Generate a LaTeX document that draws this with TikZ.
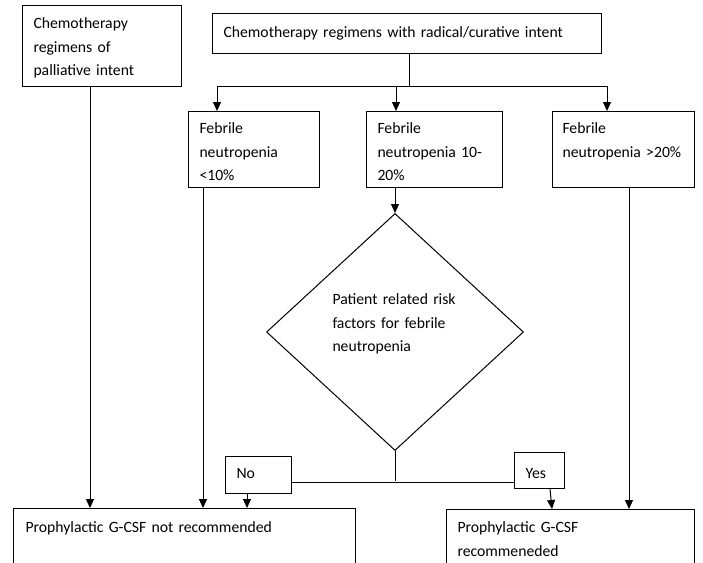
\documentclass[tikz,border=0pt]{standalone}
\usepackage{fontspec}
\setmainfont{Carlito}
\usetikzlibrary{shapes.geometric,arrows.meta}
\tikzset{
	box/.style = {draw, anchor = north west, align = left, inner xsep = 11pt, inner ysep = 0pt},
	arr/.style = {-{Triangle[length = 9pt, width = 8pt]}},
}

\begin{document}
\begin{tikzpicture}[x = 1pt, y = -1pt, line width = 1pt, font = \fontsize{15.7}{23.7}\selectfont]
	\useasboundingbox (0,0) rectangle (703,562);
	\clip (0,0) rectangle (703,562);
	% boxes
	\node[box, text width = 137pt, text height = 23pt, text depth = 58pt] (pall) at (22,5) {Chemotherapy\\ regimens of\\ palliative intent};
	\node[box, text width = 367pt, text height = 24pt, text depth = 16pt] (radical) at (212,13) {Chemotherapy regimens with radical/curative intent};
	\node[box, text width = 109pt, text height = 22pt, text depth = 54pt] (feb1) at (188,111) {Febrile\\ neutropenia\\ <10\%};
	\node[box, text width = 114pt, text height = 22pt, text depth = 54pt] (feb2) at (366,111) {Febrile\\ neutropenia 10-\\ 20\%};
	\node[box, text width = 122pt, inner xsep = 10pt, text height = 22pt, text depth = 54pt] (feb3) at (552,111) {Febrile\\ neutropenia >20\%};
	\node[draw, diamond, minimum width = 257pt, minimum height = 237pt, inner sep = 0pt, align = left, text width = 125pt, text depth = 66pt] (risk) at (395,332) {Patient related risk\\ factors for febrile\\ neutropenia};
	\node[box, text width = 44pt, text height = 22pt, text depth = 15pt] (no) at (225,456) {No};
	\node[box, text width = 28pt, text height = 26pt, text depth = 10pt] (yes) at (514,452) {Yes};
	\node[box, text width = 318pt, inner xsep = 12pt, text height = 24pt, text depth = 80pt] (notrec) at (13,508) {Prophylactic G-CSF not recommended};
	\node[box, text width = 226pt, text height = 23pt, text depth = 80pt] (rec) at (446,509) {Prophylactic G-CSF\\ recommeneded};
	% connectors
	\coordinate (split) at (409,86);
	\draw (409,0 |- radical.south) -- (split);
	\draw[arr] (split) -| (217,0 |- feb1.north);
	\draw[arr] (split) -| (607,0 |- feb3.north);
	\draw[arr] (396,0 |- split) -- (396,0 |- feb2.north);
	\draw[arr] (90,0 |- pall.south) -- (90,0 |- notrec.north); %palliative
	\draw[arr] (203,0 |- feb1.south) -- (203,0 |- notrec.north);
	\draw[arr] (risk.north |- feb2.south) -- (risk.north);
	\draw[arr] (629,0 |- feb3.south) -- (629,0 |- rec.north);
	\draw (risk.south) -- (risk.south |- 0,481);
	\draw (no.east |- 0,482) -- (yes.west |- 0,482);
	\draw[arr] (247,0 |- no.south) -- (247,0 |- notrec.north);
	\draw[arr] (550,0 |- yes.south) -- (552,0 |- rec.north);
\end{tikzpicture}
\end{document}
